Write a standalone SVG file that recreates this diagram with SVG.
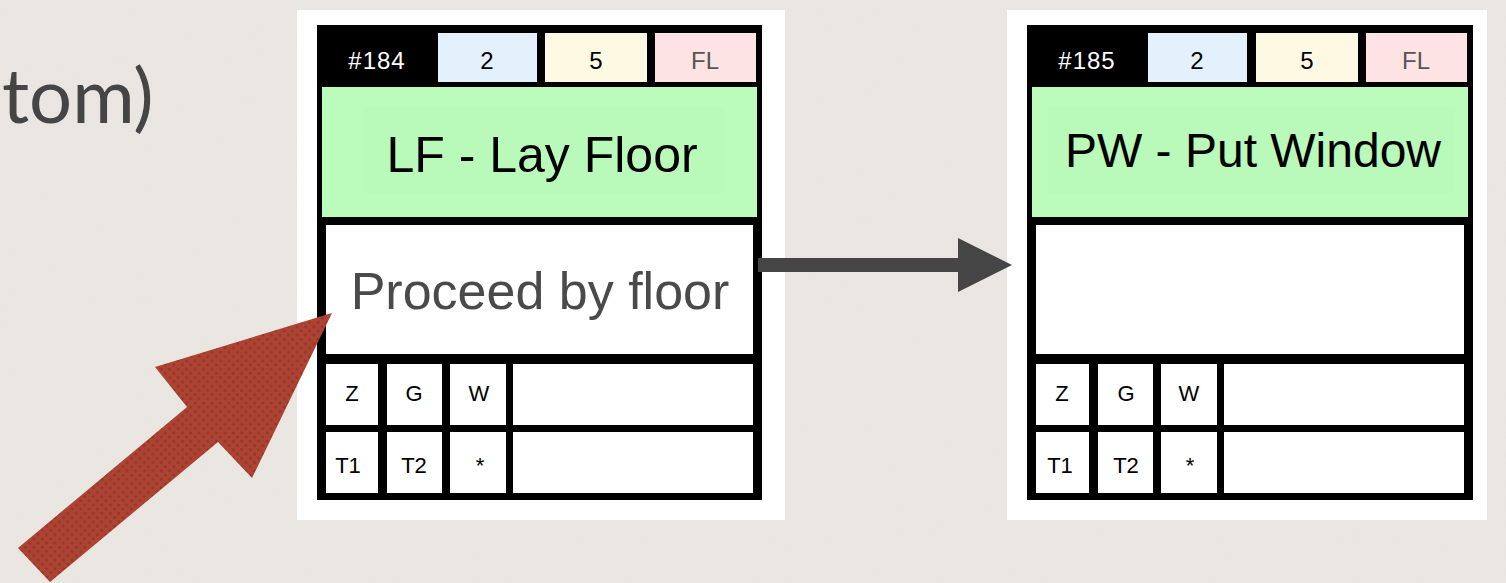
<svg xmlns="http://www.w3.org/2000/svg" width="1506" height="583" viewBox="0 0 1506 583">
  <style>
    .lbl { font-family: "Liberation Sans", Arial, sans-serif; text-anchor: middle; }
    .hdr { font-size: 24px; }
    .num { letter-spacing: 1px; }
    .big { font-size: 50px; fill: #000; }
    .sm { font-size: 22px; fill: #000; }
    .cell { fill: #fff; }
  </style>
  <defs>
    <filter id="paper" x="0" y="0" width="100%" height="100%">
      <feTurbulence type="fractalNoise" baseFrequency="0.9" numOctaves="2" seed="3" result="n"/>
      <feColorMatrix in="n" type="matrix" values="0 0 0 0 0.55  0 0 0 0 0.53  0 0 0 0 0.5  0 0 0 0.08 0"/>
    </filter>
    <pattern id="dots" width="6" height="6" patternUnits="userSpaceOnUse" patternTransform="rotate(45)">
      <rect width="6" height="6" fill="#ad4433"/>
      <circle cx="3" cy="3" r="1.6" fill="#973526"/>
    </pattern>
    <marker id="head" markerWidth="54" markerHeight="54" refX="0" refY="27" markerUnits="userSpaceOnUse" orient="auto">
      <path d="M0,0 L54,27 L0,54 Z" fill="#454545"/>
    </marker>
  </defs>

  <!-- paper background -->
  <rect width="1506" height="583" fill="#ebe8e3"/>
  <rect width="1506" height="583" filter="url(#paper)"/>

  <!-- partial heading at the left edge -->
  <text x="2" y="123" font-family="Lato, 'Open Sans', sans-serif" font-size="76" fill="#454545">tom)</text>

  <!-- card #184 -->
  <g id="card-184">
    <rect x="297" y="10" width="488" height="510" fill="#fff"/>
    <rect x="317" y="25" width="445" height="475" fill="#000"/>
    <text class="lbl hdr num" x="377" y="69" fill="#fff">#184</text>
    <rect x="438" y="33" width="99" height="49" fill="#e3f1fd"/>
    <text class="lbl hdr" x="487" y="69" fill="#000">2</text>
    <rect x="545" y="33" width="102" height="49" fill="#fef9e3"/>
    <text class="lbl hdr" x="596" y="69" fill="#000">5</text>
    <rect x="655" y="33" width="101" height="49" fill="#fde3e4"/>
    <text class="lbl hdr" x="705" y="69" fill="#555">FL</text>
    <rect x="322" y="87" width="435" height="130" fill="#bbfbbb"/>
    <rect x="363" y="107" width="360" height="86" fill="#b9f9b9"/>
    <text class="lbl big" x="542" y="172">LF - Lay Floor</text>
    <rect class="cell" x="326" y="225" width="427" height="129"/>
    <text class="lbl" x="540" y="309" font-size="52" fill="#4a4a4a">Proceed by floor</text>
    <rect class="cell" x="326" y="364" width="52" height="61"/>
    <rect class="cell" x="387" y="364" width="55" height="61"/>
    <rect class="cell" x="450" y="364" width="56" height="61"/>
    <rect class="cell" x="513" y="364" width="240" height="61"/>
    <rect class="cell" x="326" y="432" width="52" height="61"/>
    <rect class="cell" x="387" y="432" width="55" height="61"/>
    <rect class="cell" x="450" y="432" width="56" height="61"/>
    <rect class="cell" x="513" y="432" width="240" height="61"/>
    <text class="lbl sm" x="352" y="401">Z</text>
    <text class="lbl sm" x="414" y="401">G</text>
    <text class="lbl sm" x="479" y="401">W</text>
    <text class="lbl sm" x="348" y="473">T1</text>
    <text class="lbl sm" x="414" y="473">T2</text>
    <text class="lbl sm" x="480" y="473">*</text>
  </g>

  <!-- card #185 -->
  <g id="card-185">
    <rect x="1007" y="10" width="480" height="510" fill="#fff"/>
    <g transform="translate(710,0)">
      <rect x="317" y="25" width="446" height="475" fill="#000"/>
      <text class="lbl hdr num" x="377" y="69" fill="#fff">#185</text>
      <rect x="438" y="33" width="99" height="49" fill="#e3f1fd"/>
      <text class="lbl hdr" x="487" y="69" fill="#000">2</text>
      <rect x="546" y="33" width="102" height="49" fill="#fef9e3"/>
      <text class="lbl hdr" x="597" y="69" fill="#000">5</text>
      <rect x="656" y="33" width="101" height="49" fill="#fde3e4"/>
      <text class="lbl hdr" x="706" y="69" fill="#555">FL</text>
      <rect x="322" y="87" width="436" height="130" fill="#bbfbbb"/>
      <rect x="338" y="107" width="407" height="86" fill="#b9f9b9"/>
      <text class="lbl" x="543" y="167" font-size="48" fill="#000">PW - Put Window</text>
      <rect class="cell" x="326" y="225" width="428" height="129"/>
      <rect class="cell" x="326" y="364" width="53" height="61"/>
      <rect class="cell" x="388" y="364" width="55" height="61"/>
      <rect class="cell" x="451" y="364" width="56" height="61"/>
      <rect class="cell" x="514" y="364" width="240" height="61"/>
      <rect class="cell" x="326" y="432" width="53" height="61"/>
      <rect class="cell" x="388" y="432" width="55" height="61"/>
      <rect class="cell" x="451" y="432" width="56" height="61"/>
      <rect class="cell" x="514" y="432" width="240" height="61"/>
      <text class="lbl sm" x="352" y="401">Z</text>
      <text class="lbl sm" x="416" y="401">G</text>
      <text class="lbl sm" x="479" y="401">W</text>
      <text class="lbl sm" x="350" y="473">T1</text>
      <text class="lbl sm" x="416" y="473">T2</text>
      <text class="lbl sm" x="480" y="473">*</text>
    </g>
  </g>

  <!-- connectors -->
  <g id="connectors">
    <line x1="758" y1="265" x2="958" y2="265" stroke="#454545" stroke-width="14" marker-end="url(#head)"/>
  </g>

  <!-- red callout arrow -->
  <polygon id="callout" points="18,548 187,407 155,367 332,313 252,478 218,442 50,582" fill="url(#dots)"/>
</svg>
